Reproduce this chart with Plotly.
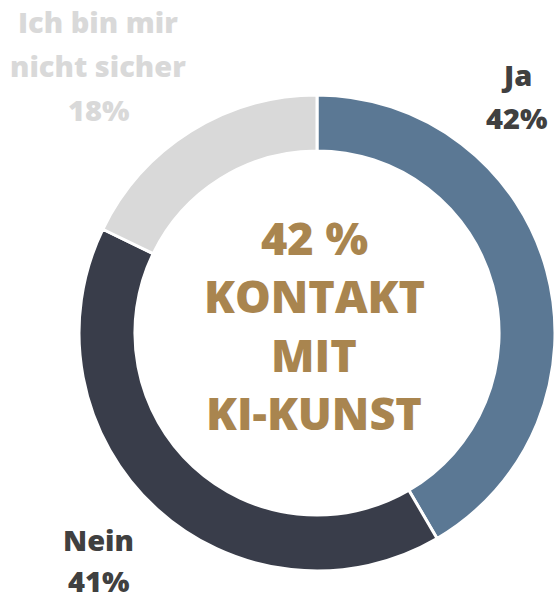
import plotly.graph_objects as go

# Survey answers and their shares (percent)
categories = ["Ja", "Nein", "Ich bin mir nicht sicher"]
label_lines = [["Ja"], ["Nein"], ["Ich bin mir", "nicht sicher"]]
values = [42, 41, 18]
colors = ["#5B7894", "#393D4A", "#D9D9D9"]
label_colors = ["#404040", "#404040", "#D9D9D9"]
center_lines = ["42 %", "KONTAKT", "MIT", "KI-KUNST"]

W, H = 555, 601
FONT = "Open Sans"

fig = go.Figure(
    go.Pie(
        labels=categories,
        values=values,
        hole=0.765,
        sort=False,
        direction="clockwise",
        rotation=0,
        marker=dict(colors=colors, line=dict(color="white", width=3)),
        textinfo="none",
        hoverinfo="label+percent",
        domain=dict(x=[(317 - 238) / W, 1.0], y=[1 - (333 + 238) / H, 1 - (333 - 238) / H]),
        showlegend=False,
    )
)

annotations = []

def px(x, y):
    return x / W, 1 - y / H

# outside labels: (centre x, middle y of first line, line gap) per category
label_pos = [(516, 74, 43.5), (98, 539, 41), (98, 22, 43.5)]
for lines, val, col, (lx, ly, gap) in zip(label_lines, values, label_colors, label_pos):
    rows = lines + [f"{val}%"]
    for i, row in enumerate(rows):
        x, y = px(lx, ly + i * gap)
        annotations.append(dict(
            x=x, y=y, xref="paper", yref="paper", text=row,
            showarrow=False, xanchor="center", yanchor="middle",
            font=dict(family=FONT, size=29, color=col, weight=800),
        ))

# centre caption
center_y0 = 237
center_gap = 58.5
for i, row in enumerate(center_lines):
    x, y = px(314, center_y0 + i * center_gap)
    annotations.append(dict(
        x=x, y=y, xref="paper", yref="paper", text=row,
        showarrow=False, xanchor="center", yanchor="middle",
        font=dict(family=FONT, size=45, color="#A9854F", weight=800),
    ))

fig.update_layout(
    width=W, height=H,
    margin=dict(l=0, r=0, t=0, b=0),
    paper_bgcolor="white", plot_bgcolor="white",
    annotations=annotations,
)

fig.write_html("out.html")
